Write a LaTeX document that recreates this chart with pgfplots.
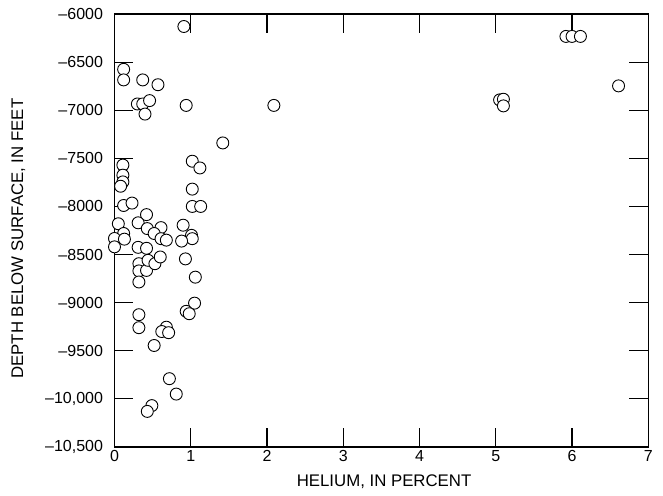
\documentclass[border=0pt]{standalone}
\usepackage{fontspec}
\setmainfont{Liberation Sans}
\usepackage{pgfplots}
\pgfplotsset{compat=1.18}

\begin{document}
\begin{tikzpicture}
\path[use as bounding box] (-114.5pt,-48pt) rectangle (548.5pt,447pt);
\begin{axis}[
  scale only axis,
  width=533.8pt,
  height=433pt,
  xmin=0, xmax=7,
  ymin=-10500, ymax=-6000,
  xtick={0,...,7},
  ytick={-10500,-10000,...,-6000},
  yticklabels={{–10,500},{–10,000},–9500,–9000,–8500,–8000,–7500,–7000,–6500,–6000},
  scaled y ticks=false,
  /pgf/number format/assume math mode=true,
  tick align=inside,
  tick pos=both,
  xticklabel pos=lower,
  yticklabel pos=left,
  major tick length=19pt,
  minor tick num=0,
  axis line style={line width=1.1pt},
  every tick/.style={black, line width=1.1pt},
  tick label style={font=\fontsize{16}{18}\selectfont},
  yticklabel style={xshift=-8pt},
  label style={font=\fontsize{16.8}{19}\selectfont, inner sep=0pt},
  xlabel={HELIUM, IN PERCENT},
  ylabel={DEPTH BELOW SURFACE, IN FEET},
  xlabel style={at={(axis description cs:0.505,0)}, anchor=north, yshift=-28pt},
  ylabel style={at={(axis description cs:-0.167,0.481)}, anchor=south, rotate=0},
  clip=false,
  axis on top,
]
\addplot[only marks, mark=*, mark size=6pt,
  mark options={fill=white, draw=black, line width=0.9pt}] coordinates {
(0.91,-6130) (0.12,-6575) (0.12,-6685) (0.37,-6685) (0.57,-6735)
(0.30,-6935) (0.37,-6935) (0.46,-6900) (0.40,-7040) (0.94,-6950)
(2.09,-6950) (1.42,-7340) (1.02,-7530) (1.12,-7600) (1.02,-7820)
(1.02,-8000) (1.13,-8000) (0.11,-7570) (0.11,-7675) (0.11,-7745)
(0.08,-7790) (0.12,-7990) (0.23,-7965) (0.42,-8085) (0.05,-8180)
(0.31,-8170) (0.43,-8230) (0.61,-8220) (0.52,-8281) (0.12,-8281)
(0.00,-8333) (0.13,-8340) (0.61,-8335) (0.68,-8350) (0.90,-8195)
(1.01,-8300) (1.02,-8335) (0.88,-8360) (0.00,-8420) (0.31,-8425)
(0.42,-8435) (0.32,-8595) (0.32,-8670) (0.42,-8665) (0.44,-8560)
(0.53,-8595) (0.60,-8525) (0.93,-8545) (0.32,-8785) (1.06,-8735)
(1.05,-9005) (0.94,-9090) (0.98,-9115) (0.32,-9125) (0.32,-9260)
(0.68,-9255) (0.62,-9300) (0.71,-9312) (0.52,-9445) (0.72,-9790)
(0.81,-9950) (0.49,-10070) (0.43,-10130)
(5.92,-6233) (6.00,-6233) (6.11,-6233) (6.61,-6747)
(5.05,-6893) (5.10,-6886) (5.10,-6955)
};
\end{axis}
\end{tikzpicture}
\end{document}
